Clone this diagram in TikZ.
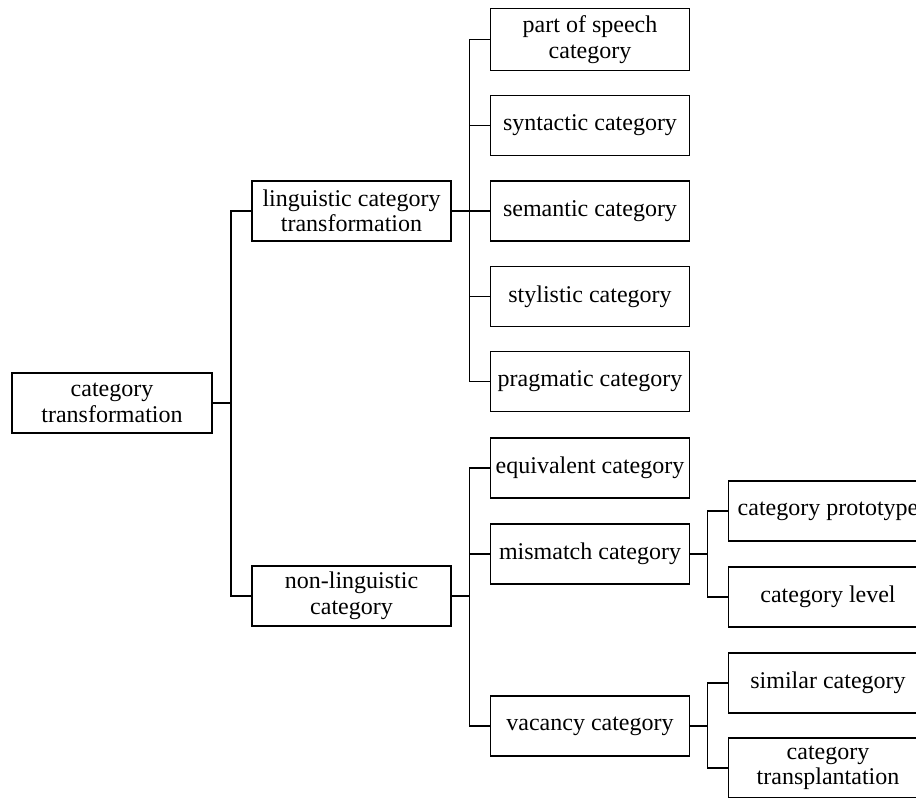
\documentclass[tikz,border=0pt]{standalone}
\usepackage{fontspec}
\setmainfont{Liberation Serif}
\begin{document}
\begin{tikzpicture}[x=1pt,y=-1pt,
  box/.style={draw,line width=1.6pt,minimum width=199pt,minimum height=60pt,inner sep=0pt,align=center,font=\fontsize{24}{25.5}\selectfont},
  link/.style={line width=1.5pt}]
\useasboundingbox (0,0) rectangle (916,798);
\clip (0,0) rectangle (916,798);
\node[box,minimum width=200pt] (root) at (112,403) {category\\transformation};
\node[box] (ling) at (351.5,211) {linguistic category\\transformation};
\node[box] (nonl) at (351.5,596) {non-linguistic\\category};
\node[box,minimum height=62pt] (pos) at (590,39.5) {part of speech\\category};
\node[box] (syn) at (590,125.5) {syntactic category};
\node[box] (sem) at (590,211) {semantic category};
\node[box] (sty) at (590,296.5) {stylistic category};
\node[box] (pra) at (590,381.5) {pragmatic category};
\node[box] (equ) at (590,468) {equivalent category};
\node[box] (mis) at (590,554) {mismatch category};
\node[box] (vac) at (590,726) {vacancy category};
\node[box] (pro) at (828,511) {category prototype};
\node[box] (lev) at (828,597) {category level};
\node[box] (sim) at (828,683) {similar category};
\node[box] (tra) at (828,768) {category\\transplantation};
\foreach \c in {ling,nonl} \draw[link] (\c.west) -- ++(-20,0) |- (root.east);
\foreach \c in {pos,syn,sem,sty,pra} \draw[link] (\c.west) -- ++(-20,0) |- (ling.east);
\foreach \c in {equ,mis,vac} \draw[link] (\c.west) -- ++(-20,0) |- (nonl.east);
\foreach \c in {pro,lev} \draw[link] (\c.west) -- ++(-20,0) |- (mis.east);
\foreach \c in {sim,tra} \draw[link] (\c.west) -- ++(-20,0) |- (vac.east);
\end{tikzpicture}
\end{document}
